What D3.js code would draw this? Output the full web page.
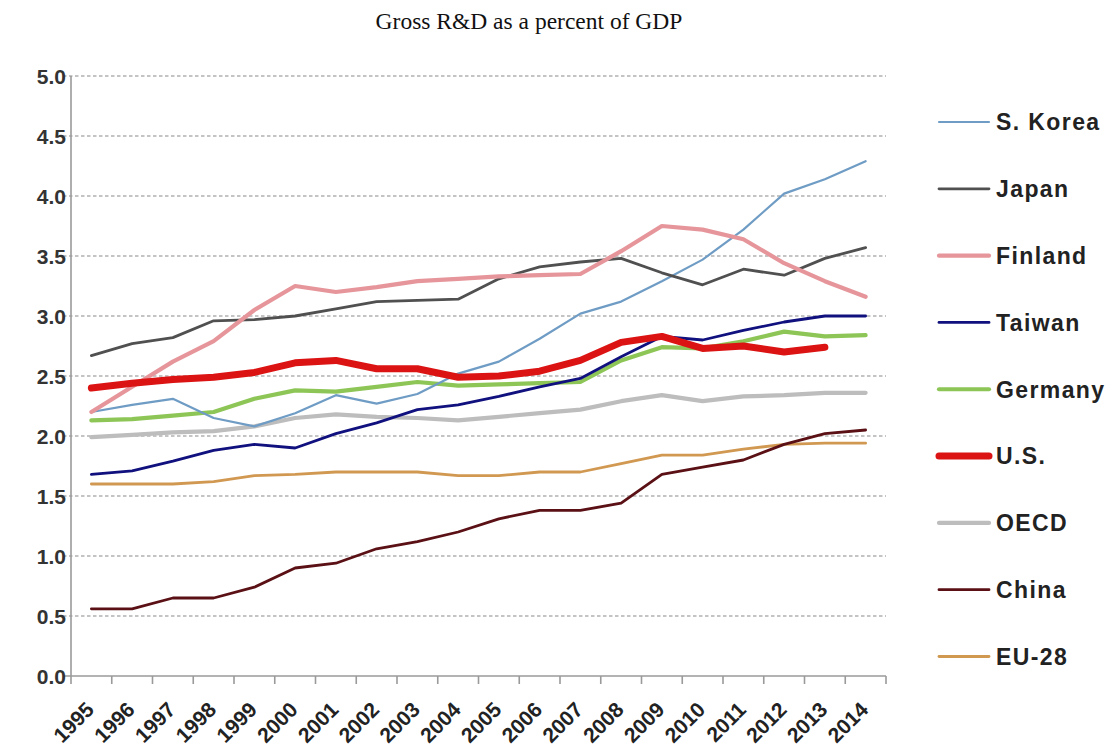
<!DOCTYPE html>
<html>
<head>
<meta charset="utf-8">
<script src="https://cdn.jsdelivr.net/npm/d3@7/dist/d3.min.js"></script>
<style>
  html, body { margin: 0; padding: 0; background: #fff; }
  svg { display: block; }
</style>
</head>
<body>
<svg id="chart" width="1115" height="751"></svg>
<script>
const years = ["1995","1996","1997","1998","1999","2000","2001","2002","2003","2004","2005","2006","2007","2008","2009","2010","2011","2012","2013","2014"];
const yTicks = [0, 0.5, 1.0, 1.5, 2.0, 2.5, 3.0, 3.5, 4.0, 4.5, 5.0];

const sKorea  = [2.20,2.26,2.31,2.15,2.08,2.19,2.34,2.27,2.35,2.52,2.62,2.81,3.02,3.12,3.29,3.47,3.72,4.02,4.14,4.29];
const japan   = [2.67,2.77,2.82,2.96,2.97,3.00,3.06,3.12,3.13,3.14,3.31,3.41,3.45,3.48,3.36,3.26,3.39,3.34,3.48,3.57];
const finland = [2.20,2.41,2.62,2.79,3.05,3.25,3.20,3.24,3.29,3.31,3.33,3.34,3.35,3.54,3.75,3.72,3.64,3.44,3.29,3.16];
const taiwan  = [1.68,1.71,1.79,1.88,1.93,1.90,2.02,2.11,2.22,2.26,2.33,2.41,2.48,2.66,2.83,2.80,2.88,2.95,3.00,3.00];
const germany = [2.13,2.14,2.17,2.20,2.31,2.38,2.37,2.41,2.45,2.42,2.43,2.44,2.45,2.63,2.74,2.73,2.79,2.87,2.83,2.84];
const us      = [2.40,2.44,2.47,2.49,2.53,2.61,2.63,2.56,2.56,2.49,2.50,2.54,2.63,2.78,2.83,2.73,2.75,2.70,2.74,null];
const oecd    = [1.99,2.01,2.03,2.04,2.08,2.15,2.18,2.16,2.15,2.13,2.16,2.19,2.22,2.29,2.34,2.29,2.33,2.34,2.36,2.36];
const china   = [0.56,0.56,0.65,0.65,0.74,0.90,0.94,1.06,1.12,1.20,1.31,1.38,1.38,1.44,1.68,1.74,1.80,1.93,2.02,2.05];
const eu28    = [1.60,1.60,1.60,1.62,1.67,1.68,1.70,1.70,1.70,1.67,1.67,1.70,1.70,1.77,1.84,1.84,1.89,1.93,1.94,1.94];

const seriesNames = ["S. Korea","Japan","Finland","Taiwan","Germany","U.S.","OECD","China","EU-28"];
const seriesValues = [sKorea, japan, finland, taiwan, germany, us, oecd, china, eu28];
const seriesColors = ["#6f9cc4","#505050","#e6969b","#10107e","#8dc656","#dc1313","#bdbdbd","#5a1014","#d19852"];
const seriesWidths = [2.2, 2.8, 4.2, 2.8, 4.2, 7, 4.2, 2.8, 2.8];
const drawOrder = [6, 8, 7, 4, 3, 0, 1, 2, 5];

const svg = d3.select("#chart");
const plotLeft = 71, plotRight = 886, plotTop = 76, plotBottom = 676;

const x = d3.scaleBand().domain(years).range([plotLeft, plotRight]).padding(0);
const cx = d => x(d) + x.bandwidth() / 2;
const y = d3.scaleLinear().domain([0, 5]).range([plotBottom, plotTop]);

// title
svg.append("text")
  .attr("x", 529).attr("y", 29)
  .attr("text-anchor", "middle")
  .attr("font-family", "'Liberation Serif', 'Times New Roman', serif")
  .attr("font-size", 23.5)
  .attr("fill", "#111")
  .text("Gross R&D as a percent of GDP");

// gridlines
svg.append("g").selectAll("line")
  .data(yTicks.filter(t => t > 0))
  .join("line")
  .attr("x1", plotLeft - 8).attr("x2", plotRight)
  .attr("y1", d => y(d)).attr("y2", d => y(d))
  .attr("stroke", "#8a8a8a")
  .attr("stroke-width", 1.2)
  .attr("stroke-dasharray", "3.5,2.5");

// y axis line
svg.append("line")
  .attr("x1", plotLeft).attr("x2", plotLeft)
  .attr("y1", plotTop).attr("y2", plotBottom)
  .attr("stroke", "#9a9a9a").attr("stroke-width", 1.6);

// x axis line
svg.append("line")
  .attr("x1", plotLeft - 8).attr("x2", plotRight)
  .attr("y1", plotBottom).attr("y2", plotBottom)
  .attr("stroke", "#9a9a9a").attr("stroke-width", 1.6);

// x ticks at band boundaries
const boundaries = years.map(d => x(d)).concat([plotRight]);
svg.append("g").selectAll("line")
  .data(boundaries)
  .join("line")
  .attr("x1", d => d).attr("x2", d => d)
  .attr("y1", plotBottom).attr("y2", plotBottom + 8)
  .attr("stroke", "#9a9a9a").attr("stroke-width", 1.6);

// y tick labels
svg.append("g").selectAll("text")
  .data(yTicks)
  .join("text")
  .attr("x", 66).attr("y", d => y(d))
  .attr("dy", "0.36em")
  .attr("text-anchor", "end")
  .attr("font-family", "'Liberation Sans', Arial, sans-serif")
  .attr("font-weight", "bold")
  .attr("font-size", 21)
  .attr("fill", "#333")
  .text(d => d.toFixed(1));

// x tick labels
svg.append("g").selectAll("text")
  .data(years)
  .join("text")
  .attr("transform", d => `translate(${cx(d) + 4},${plotBottom + 35}) rotate(-45)`)
  .attr("text-anchor", "end")
  .attr("font-family", "'Liberation Sans', Arial, sans-serif")
  .attr("font-weight", "bold")
  .attr("font-size", 21)
  .attr("fill", "#222")
  .text(d => d);

// lines
const line = d3.line()
  .defined(d => d.v !== null)
  .x(d => cx(d.year))
  .y(d => y(d.v));

svg.append("g").selectAll("path")
  .data(drawOrder)
  .join("path")
  .attr("d", i => line(years.map((yr, k) => ({ year: yr, v: seriesValues[i][k] }))))
  .attr("fill", "none")
  .attr("stroke", i => seriesColors[i])
  .attr("stroke-width", i => seriesWidths[i])
  .attr("stroke-linejoin", "round")
  .attr("stroke-linecap", "round");

// legend
const legendY = d3.scalePoint().domain(seriesNames).range([122, 656.5]);
const lg = svg.append("g").selectAll("g")
  .data(seriesNames)
  .join("g")
  .attr("transform", d => `translate(0,${legendY(d)})`);
lg.append("line")
  .attr("x1", 939).attr("x2", 989)
  .attr("y1", 0).attr("y2", 0)
  .attr("stroke", (d, i) => seriesColors[i])
  .attr("stroke-width", (d, i) => seriesWidths[i])
  .attr("stroke-linecap", "round");
lg.append("text")
  .attr("x", 996).attr("y", 0)
  .attr("dy", "0.36em")
  .attr("font-family", "'Liberation Sans', Arial, sans-serif")
  .attr("font-weight", "bold")
  .attr("font-size", 23)
  .attr("letter-spacing", 1.4)
  .attr("fill", "#222")
  .text(d => d);
</script>
</body>
</html>
